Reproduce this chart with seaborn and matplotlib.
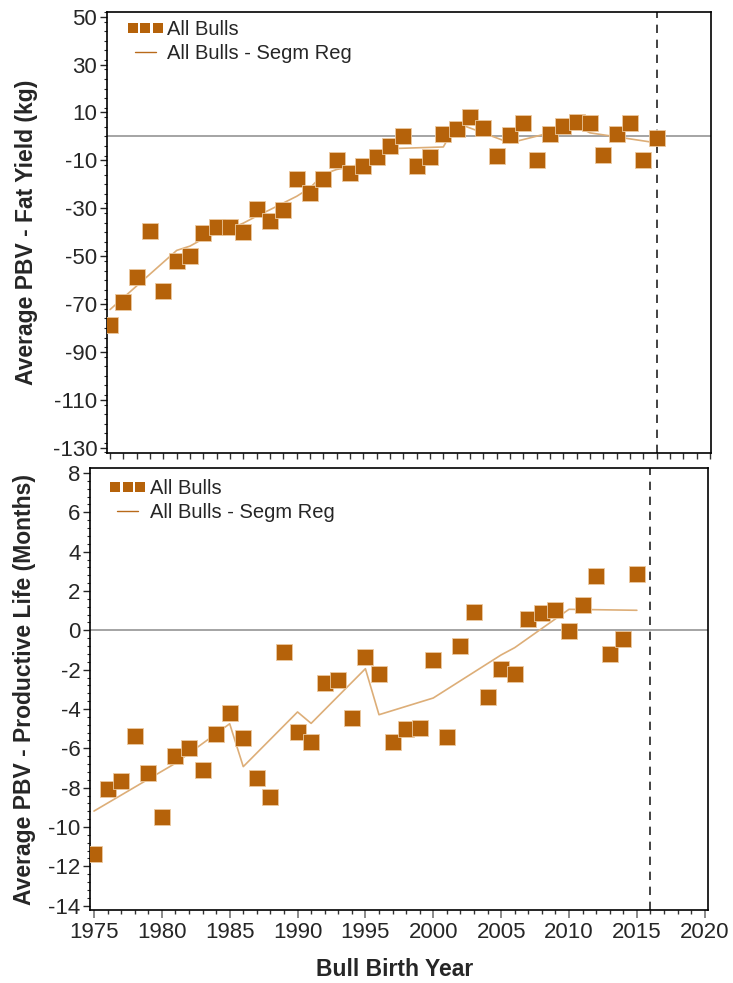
import matplotlib
matplotlib.use("Agg")
import matplotlib.pyplot as plt
from matplotlib.lines import Line2D
from matplotlib.legend_handler import HandlerLine2D
from matplotlib.ticker import MultipleLocator
import seaborn as sns
import pandas as pd

# ---------------- data ----------------
fat_years = list(range(1975, 2017))
fat_pbv = [-78.6, -69.2, -58.8, -39.7, -64.5, -52.2, -50.0, -40.4, -37.9, -37.9,
           -39.8, -30.5, -35.5, -30.9, -17.9, -23.8, -17.6, -9.8, -15.3, -12.3,
           -8.4, -4.2, 0.2, -12.5, -8.4, 1.1, 3.3, 8.2, 3.4, -8.1,
           0.8, 5.8, -9.8, 0.9, 4.5, 6.0, 5.7, -7.7, 1.2, 5.5,
           -9.8, -0.5]
fat_reg_years = [1975, 1980, 1981, 1982, 1983, 1984, 1985, 1986, 1987, 1988, 1989,
                 1990, 1991, 1992, 1993, 1994, 1995, 1996, 2000, 2001, 2005, 2010,
                 2011, 2016]
fat_reg = [-72.3, -47.6, -45.8, -42.7, -40.6, -38.5, -36.2, -33.3, -30.6, -27.8, -25.0,
           -21.5, -15.8, -13.8, -12.8, -11.1, -8.6, -5.1, -4.4, 5.6, -2.7, 4.3,
           1.5, -2.7]

pl_years = list(range(1975, 2016))
pl_pbv = [-11.37, -8.05, -7.64, -5.37, -7.25, -9.49, -6.41, -5.97, -7.08, -5.29,
          -4.19, -5.47, -7.53, -8.47, -1.08, -5.19, -5.69, -2.69, -2.53, -4.46,
          -1.37, -2.22, -5.66, -5.02, -4.95, -1.49, -5.41, -0.78, 0.95, -3.39,
          -1.98, -2.22, 0.59, 0.90, 1.05, -0.02, 1.29, 2.76, -1.22, -0.42,
          2.86]
pl_reg_years = [1975, 1981, 1985, 1986, 1990, 1991, 1995, 1996, 2000, 2005, 2006, 2010, 2015]
pl_reg = [-9.19, -6.76, -4.75, -6.93, -4.15, -4.73, -1.95, -4.29, -3.44, -1.25, -0.88, 1.07, 1.02]

cutoff_year = 2016
series_label = "All Bulls"
reg_label = "All Bulls - Segm Reg"
fat_ylabel = "Average PBV - Fat Yield (kg)"
pl_ylabel = "Average PBV - Productive Life (Months)"
xlabel = "Bull Birth Year"
x_ticks = [1975, 1980, 1985, 1990, 1995, 2000, 2005, 2010, 2015, 2020]

# ---------------- style ----------------
sns.set_style("ticks")
plt.rcParams["font.family"] = ["Liberation Sans", "DejaVu Sans"]
plt.rcParams["axes.unicode_minus"] = False

MARK = "#B5620A"
MARK_EDGE = "#EBC9A0"
LINE = "#DDAE78"
LEG_LINE = "#B86A1A"
TICK_FS = 16

fig = plt.figure(figsize=(7.33, 9.83), dpi=100)
W, H = 733.0, 983.0
ax1 = fig.add_axes([107 / W, 1 - 452.7 / H, 604 / W, 441 / H])
ax2 = fig.add_axes([90.3 / W, 1 - 910 / H, 617.4 / W, 441.7 / H])

df_fat = pd.DataFrame({"year": fat_years, "pbv": fat_pbv})
df_fat_reg = pd.DataFrame({"year": fat_reg_years, "pbv": fat_reg})
df_pl = pd.DataFrame({"year": pl_years, "pbv": pl_pbv})
df_pl_reg = pd.DataFrame({"year": pl_reg_years, "pbv": pl_reg})


def draw(ax, df, dreg):
    ax.axhline(0, color="#8C8C8C", lw=1.1, zorder=1)
    ax.axvline(cutoff_year, color="#222222", lw=1.2, ls=(0, (5, 4)), zorder=1)
    sns.lineplot(data=dreg, x="year", y="pbv", ax=ax, color=LINE, lw=1.2,
                 estimator=None, zorder=2, legend=False)
    sns.scatterplot(data=df, x="year", y="pbv", ax=ax, marker="s", s=118,
                    color=MARK, edgecolor=MARK_EDGE, linewidth=0.6, zorder=3,
                    legend=False)
    for sp in ax.spines.values():
        sp.set_visible(True)
        sp.set_color("black")
        sp.set_linewidth(1.2)
    ax.set_xlabel("")
    ax.set_ylabel("")


def add_legend(ax, anchor):
    h1 = Line2D([], [], ls="none", marker="s", ms=7.6, mfc=MARK, mec=MARK, mew=0)
    h2 = Line2D([], [], color=LEG_LINE, lw=1.0)
    ax.legend([h1, h2], [series_label, reg_label], loc="upper left",
              bbox_to_anchor=anchor, frameon=False, numpoints=3,
              handlelength=1.65, handletextpad=0.25, labelspacing=0.25,
              borderpad=0, borderaxespad=0, fontsize=14.5,
              handler_map={h1: HandlerLine2D(numpoints=3, marker_pad=0.2)})


# top panel
draw(ax1, df_fat, df_fat_reg)
ax1.set_xlim(1974.77, 2020.08)
ax1.set_ylim(-132.1, 52.1)
ax1.set_yticks(list(range(-130, 51, 20)))
ax1.yaxis.set_minor_locator(MultipleLocator(4))
ax1.xaxis.set_major_locator(MultipleLocator(1))
ax1.tick_params(axis="x", which="both", labelbottom=False, length=4, width=1, color="#333333")
ax1.tick_params(axis="y", which="major", labelsize=TICK_FS, length=5, width=1, pad=2)
ax1.tick_params(axis="y", which="minor", length=2.5, width=0.8)
ax1.set_ylabel(fat_ylabel, fontsize=16.5, fontweight="bold")
ax1.yaxis.label.set_va("center")
ax1.yaxis.set_label_coords(-0.134, 0.5)
add_legend(ax1, (0.036, 0.982))

# bottom panel
draw(ax2, df_pl, df_pl_reg)
ax2.set_xlim(1974.73, 2020.22)
ax2.set_ylim(-14.22, 8.24)
ax2.set_yticks(list(range(-14, 9, 2)))
ax2.yaxis.set_minor_locator(MultipleLocator(0.4))
ax2.set_xticks(x_ticks)
ax2.set_xticklabels([str(x) for x in x_ticks])
ax2.xaxis.set_minor_locator(MultipleLocator(1))
ax2.tick_params(axis="x", which="major", labelsize=TICK_FS, length=5.5, width=1.2, color="#777777")
ax2.tick_params(axis="x", which="minor", length=3, width=1, color="#333333")
ax2.tick_params(axis="y", which="major", labelsize=TICK_FS, length=5, width=1, pad=2)
ax2.tick_params(axis="y", which="minor", length=2.5, width=0.8)
ax2.set_ylabel(pl_ylabel, fontsize=16.5, fontweight="bold")
ax2.yaxis.label.set_va("center")
ax2.yaxis.set_label_coords(-0.107, 0.5)
add_legend(ax2, (0.034, 0.975))

fig.text(395 / W, 1 - 970 / H, xlabel, fontsize=16.5, fontweight="bold",
         ha="center", va="center")

fig.savefig("out.png", dpi=100)
